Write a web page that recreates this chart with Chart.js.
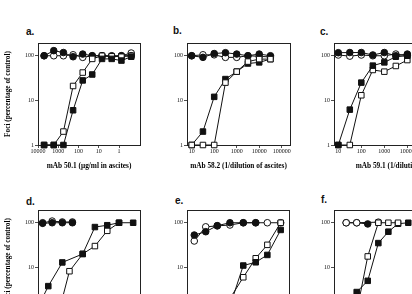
<!DOCTYPE html>
<html>
<head>
<meta charset="utf-8">
<script src="https://cdn.jsdelivr.net/npm/chart.js@4.4.1/dist/chart.umd.min.js"></script>
<style>
  html, body { margin: 0; padding: 0; background: #fff; overflow: hidden; }
  #fig { position: relative; width: 412px; height: 294px; overflow: hidden; }
  #fig canvas { position: absolute; }
  .lbl { position: absolute; font: bold 10px "Liberation Sans", Arial, sans-serif; line-height: 10px; color: #111; }
</style>
</head>
<body>
<div id="fig">
  <div class="lbl" style="left:26px;top:27px">a.</div>
  <div class="lbl" style="left:173px;top:26px">b.</div>
  <div class="lbl" style="left:320px;top:27px">c.</div>
  <div class="lbl" style="left:26px;top:197px">d.</div>
  <div class="lbl" style="left:175px;top:196px">e.</div>
  <div class="lbl" style="left:321px;top:195px">f.</div>
  <canvas id="pa"></canvas>
  <canvas id="pb"></canvas>
  <canvas id="pc"></canvas>
  <canvas id="pd"></canvas>
  <canvas id="pe"></canvas>
  <canvas id="pf"></canvas>
</div>
<script>
// tick labels
var yTicks = [1, 10, 100];
var concTicks = [10000, 1000, 100, 10, 1];
var dilTicks = [10, 100, 1000, 10000, 100000];

// a. mAb 50.1 (ug/ml)
var aDose = [5000, 1667, 556, 185, 62, 21, 6.9, 2.3, 0.76, 0.25];
var aFilledCircle = [100, 130, 118, 95, 109, 100, 100, 100, 100, 100];
var aOpenCircle = [100, 100, 100, 105, 92, 100, 100, 95, 100, 115];
var aFilledSquare = [1, 1, 1, 6, 28, 38, 85, 85, 78, 95];
var aOpenSquare = [1, 1, 2, 21, 42, 85, 100, 97, 95, 100];

// b. mAb 58.2 (1/dilution)
var bDose = [10, 31.6, 100, 316, 1000, 3162, 10000, 31623];
var bFilledCircle = [100, 92, 112, 117, 109, 100, 109, 100];
var bOpenCircle = [100, 105, 105, 92, 92, 100, 97, 94];
var bFilledSquare = [1, 2, 12, 30, 44, 67, 71, 84];
var bOpenSquare = [1, 1, 1, 25, 44, 74, 84, 84];

// c. mAb 59.1 (1/dilution)
var cDose = [10, 31.6, 100, 316, 1000, 3162, 10000];
var cFilledCircle = [117, 118, 118, 104, 118, 100, 109];
var cOpenCircle = [104, 98, 104, 100, 100, 109, 100];
var cFilledSquare = [1, 6.2, 25, 60, 71, 95, 100];
var cOpenSquare = [1, 1, 13, 48, 44, 59, 80];

// d.
var dCircleDose = [5900, 2000, 630, 200];
var dFilledCircle = [97, 100, 100, 100];
var dOpenCircle = [100, 109, 104, 104];
var dFilledSquareDose = [8500, 3100, 630, 62, 15.5, 3.8, 1, 0.2];
var dFilledSquare = [1.5, 3.8, 12.9, 20, 80, 88, 100, 100];
var dOpenSquareDose = [630, 280, 62, 15.5, 3.8, 1];
var dOpenSquare = [2, 8.2, 20, 30, 66, 100];

// e.
var eDose = [13, 42, 137, 500, 1960, 7000, 23000, 90000];
var eFilledCircle = [53, 63, 86, 100, 100, 100, null, null];
var eOpenCircle = [39, 81, 85, 89, 100, 100, 100, 100];
var eFilledSquare = [null, null, null, 1.35, 11, 13, 19, 69];
var eOpenSquare = [null, null, null, 2, 6, 16, 32, 100];

// f.
var fDose = [22, 63, 190, 550, 1500, 3950, 11000];
var fFilledCircle = [100, 100, 94, null, null, null, null];
var fOpenCircle = [100, 100, null, 103, null, null, null];
var fFilledSquare = [1, 2.8, 5, 35, 63, 95, 100];
var fOpenSquare = [null, 1, 17.6, 100, 100, 100, null];

var serif = '"Liberation Serif", "Times New Roman", serif';
var ink = '#111';

function pts(xs, ys) {
    return xs.map(function (x, i) { return { x: x, y: ys[i] }; });
}

// shape: 'c' circle, 's' square
function series(xs, ys, filled, shape) {
    return {
        data: pts(xs, ys),
        borderColor: ink,
        borderWidth: 1,
        pointStyle: shape === 's' ? 'rect' : 'circle',
        pointRadius: shape === 's' ? 3.9 : 3.3,
        pointBackgroundColor: filled ? ink : '#fff',
        pointBorderColor: ink,
        pointBorderWidth: 1,
        fill: false,
        tension: 0,
        spanGaps: true,
        clip: false
    };
}

var frame = {
    id: 'frame',
    beforeDatasetsDraw: function (chart) {
        var a = chart.chartArea, ctx = chart.ctx;
        ctx.save();
        ctx.strokeStyle = '#222';
        ctx.lineWidth = 1;
        ctx.strokeRect(a.left + 0.5, a.top + 0.5, a.right - a.left, a.bottom - a.top);
        ctx.restore();
    }
};

function makePanel(id, box, xs, sets, xTitle, yTitle) {
    var yW = 38, padT = 3, padR = 6, xH = 26;
    var cv = document.getElementById(id);
    var w = yW + (box.r - box.l) + padR;
    var h = padT + (box.b - box.t) + xH;
    cv.style.left = (box.l - yW) + 'px';
    cv.style.top = (box.t - padT) + 'px';
    cv.width = w; cv.height = h;
    cv.style.width = w + 'px'; cv.style.height = h + 'px';

    new Chart(cv.getContext('2d'), {
        type: 'line',
        data: { datasets: sets },
        plugins: [frame],
        options: {
            responsive: false,
            animation: false,
            events: [],
            layout: { padding: { top: padT, right: padR, left: 0, bottom: 0 } },
            plugins: { legend: { display: false }, tooltip: { enabled: false } },
            scales: {
                x: {
                    type: 'logarithmic',
                    min: xs.min, max: xs.max, reverse: !!xs.reverse,
                    afterBuildTicks: function (s) { s.ticks = xs.ticks.map(function (v) { return { value: v }; }); },
                    afterFit: function (s) { s.height = xH; },
                    ticks: {
                        callback: function (v) { return String(v); },
                        font: { family: serif, size: 6 }, color: '#111',
                        padding: 0, maxRotation: 0, autoSkip: false
                    },
                    grid: { drawOnChartArea: false, drawTicks: true, tickLength: 3, color: '#222', lineWidth: 0.8 },
                    border: { display: false },
                    title: {
                        display: !!xTitle, text: xTitle || '',
                        font: { family: serif, size: 7.3, weight: 'bold' }, color: '#000',
                        padding: { top: 0, bottom: 1 }
                    }
                },
                y: {
                    type: 'logarithmic',
                    min: 1, max: 193,
                    afterBuildTicks: function (s) { s.ticks = yTicks.map(function (v) { return { value: v }; }); },
                    afterFit: function (s) { s.width = yW; },
                    ticks: {
                        callback: function (v) { return String(v); },
                        font: { family: serif, size: 6 }, color: '#111', padding: 1
                    },
                    grid: { drawOnChartArea: false, drawTicks: true, tickLength: 3, color: '#222', lineWidth: 0.8 },
                    border: { display: false },
                    title: {
                        display: !!yTitle, text: yTitle || '',
                        font: { family: serif, size: 7.3, weight: 'bold' }, color: '#000',
                        padding: { top: 3.6, bottom: 0 }
                    }
                }
            }
        }
    });
}

var conc = { min: 0.092, max: 10000, reverse: true, ticks: concTicks };
var dilB = { min: 6.18, max: 234000, ticks: dilTicks };
var dilE = { min: 6.18, max: 211000, ticks: dilTicks };
var dilC = { min: 6.5, max: 7.9e6, ticks: dilTicks };
var yLab = 'Foci (percentage of control)';

makePanel('pa', { l: 38, t: 41, r: 140, b: 145 }, conc, [
    series(aDose, aFilledSquare, true, 's'),
    series(aDose, aOpenSquare, false, 's'),
    series(aDose, aFilledCircle, true, 'c'),
    series(aDose, aOpenCircle, false, 'c')
], 'mAb 50.1 (\u00b5g/ml in ascites)', yLab);

makePanel('pb', { l: 187, t: 41, r: 290, b: 145 }, dilB, [
    series(bDose, bOpenSquare, false, 's'),
    series(bDose, bFilledSquare, true, 's'),
    series(bDose, bFilledCircle, true, 'c'),
    series(bDose, bOpenCircle, false, 'c')
], 'mAb 58.2 (1/dilution of ascites)', null);

makePanel('pc', { l: 334, t: 41, r: 474, b: 145 }, dilC, [
    series(cDose, cFilledSquare, true, 's'),
    series(cDose, cOpenSquare, false, 's'),
    series(cDose, cFilledCircle, true, 'c'),
    series(cDose, cOpenCircle, false, 'c')
], 'mAb 59.1 (1/dilution of ascites)', null);

makePanel('pd', { l: 38, t: 208, r: 140, b: 312 }, conc, [
    series(dFilledSquareDose, dFilledSquare, true, 's'),
    series(dOpenSquareDose, dOpenSquare, false, 's'),
    series(dCircleDose, dFilledCircle, true, 'c'),
    series(dCircleDose, dOpenCircle, false, 'c')
], null, yLab);

makePanel('pe', { l: 187, t: 208, r: 289, b: 312 }, dilE, [
    series(eDose, eFilledSquare, true, 's'),
    series(eDose, eOpenSquare, false, 's'),
    series(eDose, eFilledCircle, true, 'c'),
    series(eDose, eOpenCircle, false, 'c')
], null, null);

makePanel('pf', { l: 334, t: 208, r: 474, b: 312 }, dilC, [
    series(fDose, fOpenSquare, false, 's'),
    series(fDose, fFilledSquare, true, 's'),
    series(fDose, fOpenCircle, false, 'c'),
    series(fDose, fFilledCircle, true, 'c')
], null, null);
</script>
</body>
</html>
